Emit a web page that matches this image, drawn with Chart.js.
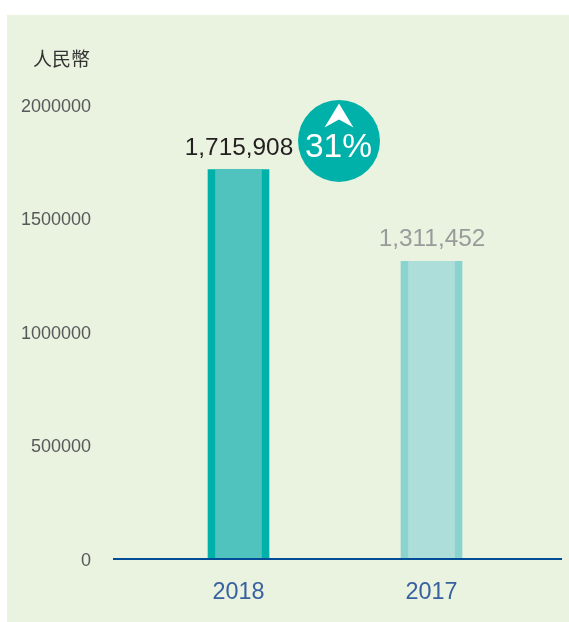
<!DOCTYPE html>
<html><head><meta charset="utf-8">
<style>
html,body{margin:0;padding:0;background:#fff;width:569px;height:622px;overflow:hidden}
#panel{position:absolute;left:7px;top:15px;width:562px;height:607px;background:#eaf3e0}
canvas{position:absolute;left:0;top:0}
</style>
<script src="https://cdn.jsdelivr.net/npm/chart.js@4"></script>
</head><body>
<div id="panel"></div>
<canvas id="c" width="569" height="622"></canvas>
<script>
const categories = ['2018', '2017'];
const values = [1715908, 1311452];
const valueLabels = ['1,715,908', '1,311,452'];
const yTicks = [0, 500000, 1000000, 1500000, 2000000];
const unitLabel = '人民幣';
const changeLabel = '31%';
const outerColors = ['#00b1a9', '#8ad3cf'];
const innerColors = ['#50c3bf', '#addeda'];
const labelColors = ['#231f20', '#999b9b'];
const SANS = '"Liberation Sans", Arial, sans-serif';

const annotate = {
  id: 'annotate',
  afterDatasetsDraw(chart) {
    const {ctx, scales: {x, y}} = chart;
    ctx.save();
    // baseline, extending past the category band
    ctx.strokeStyle = '#004c97';
    ctx.lineWidth = 2;
    ctx.beginPath();
    ctx.moveTo(113, y.getPixelForValue(0));
    ctx.lineTo(562, y.getPixelForValue(0));
    ctx.stroke();

    // value labels
    ctx.font = '24.4px ' + SANS;
    ctx.textAlign = 'center';
    ctx.textBaseline = 'alphabetic';
    values.forEach((v, i) => {
      ctx.fillStyle = labelColors[i];
      ctx.fillText(valueLabels[i], x.getPixelForValue(i) + 0.5, y.getPixelForValue(v) - 14 - (i === 1 ? 1 : 0));
    });

    // change badge
    const cx = x.getPixelForValue(0) + 100.5;
    const cy = y.getPixelForValue(values[0]) - 28.5;
    ctx.fillStyle = '#00b1a9';
    ctx.beginPath();
    ctx.arc(cx, cy, 41, 0, Math.PI * 2);
    ctx.fill();
    ctx.fillStyle = '#fff';
    ctx.beginPath();
    ctx.moveTo(cx, cy - 37.5);
    ctx.lineTo(cx + 14.5, cy - 13.5);
    ctx.lineTo(cx, cy - 21.5);
    ctx.lineTo(cx - 14.5, cy - 13.5);
    ctx.closePath();
    ctx.fill();
    ctx.font = '33.5px ' + SANS;
    ctx.fillText(changeLabel, cx - 0.5, cy + 16);

    // unit label
    ctx.fillStyle = '#333';
    ctx.font = '19px "Noto Sans CJK TC", sans-serif';
    ctx.textAlign = 'left';
    ctx.textBaseline = 'middle';
    ctx.fillText(unitLabel, 33, 59);
    ctx.restore();
  }
};

new Chart(document.getElementById('c'), {
  type: 'bar',
  data: {
    labels: categories,
    datasets: [
      {data: values, backgroundColor: innerColors, barThickness: 46, order: 1},
      {data: values, backgroundColor: outerColors, barThickness: 61, order: 2}
    ]
  },
  options: {
    responsive: false,
    animation: false,
    layout: {padding: {left: 0, right: 41, top: 105, bottom: 0}},
    plugins: {legend: {display: false}, tooltip: {enabled: false}},
    scales: {
      x: {
        stacked: false,
        grid: {display: false, drawTicks: false},
        border: {display: false},
        ticks: {color: '#38619f', font: {family: SANS, size: 23.4}, padding: 20, maxRotation: 0},
        afterFit(s) { s.height = 63; }
      },
      y: {
        min: 0, max: 2000000,
        afterBuildTicks(s) { s.ticks = yTicks.map(value => ({value})); },
        grid: {display: false, drawTicks: false},
        border: {display: false},
        ticks: {color: '#58595b', font: {family: SANS, size: 18}, padding: 51, labelOffset: 2, callback: v => String(v)},
        afterFit(s) { s.width = 142; }
      }
    },
    datasets: {bar: {grouped: false}}
  },
  plugins: [annotate]
});
</script>
</body></html>
